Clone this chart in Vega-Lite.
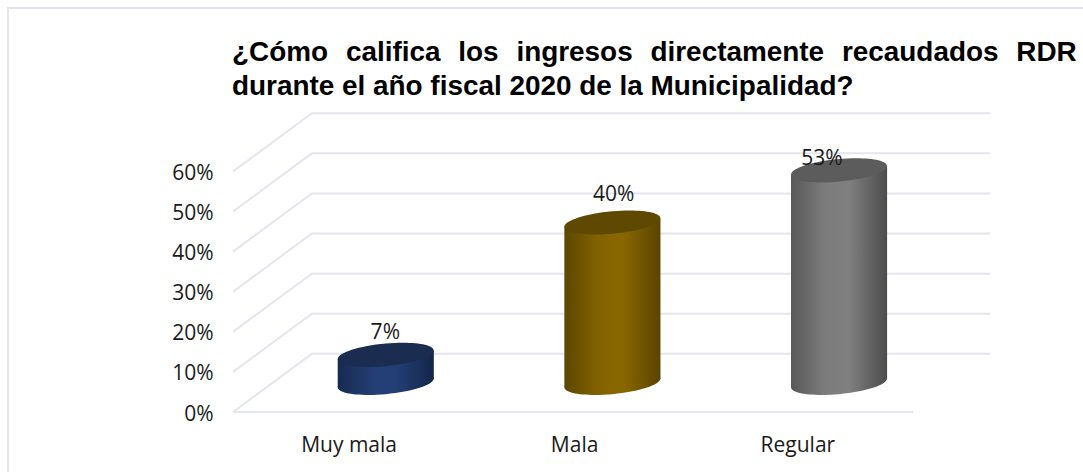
{
"$schema":"https://vega.github.io/schema/vega-lite/v6.json",
"width":757,"height":299,
"autosize":{"type":"none"},
"padding":{"left":233,"top":113,"right":93,"bottom":62},
"background":"#ffffff",
"title":{"text":["¿Cómo\u00a0\u00a0\u200acalif\u0069ca\u00a0\u00a0\u200alos\u00a0\u00a0\u200aingresos\u00a0\u00a0\u200adirectamente\u00a0\u00a0\u200arecaudados\u00a0\u00a0\u200aRDR","durante el año fiscal 2020 de la Municipalidad?"],"anchor":"start","frame":"group","font":"Liberation Sans","fontSize":27.9,"fontWeight":"bold","color":"#000000","lineHeight":34,"offset":0,"dy":97,"dx":-1},
"datasets":{
"rejilla":[
{"linea":"0","orden":1,"x":0,"y":0},{"linea":"0","orden":2,"x":0.348,"y":14.5},{"linea":"0","orden":3,"x":3.34,"y":14.5},
{"linea":"10","orden":1,"x":0,"y":10},{"linea":"10","orden":2,"x":0.348,"y":24.5},{"linea":"10","orden":3,"x":3.34,"y":24.5},
{"linea":"20","orden":1,"x":0,"y":20},{"linea":"20","orden":2,"x":0.348,"y":34.5},{"linea":"20","orden":3,"x":3.34,"y":34.5},
{"linea":"30","orden":1,"x":0,"y":30},{"linea":"30","orden":2,"x":0.348,"y":44.5},{"linea":"30","orden":3,"x":3.34,"y":44.5},
{"linea":"40","orden":1,"x":0,"y":40},{"linea":"40","orden":2,"x":0.348,"y":54.5},{"linea":"40","orden":3,"x":3.34,"y":54.5},
{"linea":"50","orden":1,"x":0,"y":50},{"linea":"50","orden":2,"x":0.348,"y":64.5},{"linea":"50","orden":3,"x":3.34,"y":64.5},
{"linea":"60","orden":1,"x":0,"y":60},{"linea":"60","orden":2,"x":0.348,"y":74.5},{"linea":"60","orden":3,"x":3.34,"y":74.5},
{"linea":"suelo","orden":1,"x":0,"y":0},{"linea":"suelo","orden":2,"x":3,"y":0},
{"linea":"marco","orden":1,"x":-0.993,"y":-15},{"linea":"marco","orden":2,"x":-0.993,"y":100.75},{"linea":"marco","orden":3,"x":3.78,"y":100.75}
],
"cuerpos":[
{"categoria":"Muy mala","x":0.462,"alto":13.25,"bajo":6.25},{"categoria":"Muy mala","x":0.886,"alto":15.25,"bajo":8.25},
{"categoria":"Mala","x":1.462,"alto":46.25,"bajo":6.25},{"categoria":"Mala","x":1.886,"alto":48.25,"bajo":8.25},
{"categoria":"Regular","x":2.462,"alto":59.25,"bajo":6.25},{"categoria":"Regular","x":2.886,"alto":61.25,"bajo":8.25}
],
"valores":[
{"categoria":"Muy mala","valor":7,"etiqueta":"7%","centro":0.674,"cima":14.25,"base":7.25,"xt":0.672,"yt":19.7},
{"categoria":"Mala","valor":40,"etiqueta":"40%","centro":1.674,"cima":47.25,"base":7.25,"xt":1.68,"yt":54.1},
{"categoria":"Regular","valor":53,"etiqueta":"53%","centro":2.674,"cima":60.25,"base":7.25,"xt":2.598,"yt":63.1}
]
},
"layer":[
{"data":{"name":"rejilla"},"mark":{"type":"line","color":"#e3e6ee","strokeWidth":2,"clip":false},
"encoding":{
"x":{"field":"x","type":"quantitative","scale":{"domain":[0,3.34],"nice":false,"zero":false},"axis":{"values":[0.51,1.505,2.49],"labelExpr":"['Muy mala','Mala','Regular'][round(datum.value-0.5)]","title":null,"domain":false,"ticks":false,"grid":false,"labelFont":"Open Sans","labelFontSize":21,"labelColor":"#1a1a1a","labelPadding":22,"labelFlush":false}},
"y":{"field":"y","type":"quantitative","scale":{"domain":[0,74.56],"nice":false},"axis":{"values":[0,10,20,30,40,50,60],"labelExpr":"datum.value+'%'","title":null,"domain":false,"ticks":false,"grid":false,"labelFont":"Open Sans","labelFontSize":21,"labelColor":"#1a1a1a","labelPadding":20,"labelOffset":2}},
"detail":{"field":"linea"},"order":{"field":"orden","type":"quantitative"}}},

{"data":{"name":"valores"},"transform":[{"filter":"datum.categoria==='Muy mala'"}],"mark":{"type":"point","filled":true,"opacity":1,"size":9216,"strokeWidth":0,"shape":"M1,-0.09C1,-0.2198,0.5523,-0.2847,0,-0.235C-0.5523,-0.1853,-1,-0.0398,-1,0.09C-1,0.2198,-0.5523,0.2847,0,0.235C0.5523,0.1853,1,0.0398,1,-0.09Z","fill":{"gradient":"linear","x1":0,"x2":1,"y1":0,"y2":0,"stops":[{"offset":0,"color":"#182a52"},{"offset":0.4,"color":"#243f75"},{"offset":0.6,"color":"#243f75"},{"offset":1,"color":"#14254a"}]}},
"encoding":{"x":{"field":"centro","type":"quantitative"},"y":{"field":"base","type":"quantitative"}}},
{"data":{"name":"valores"},"transform":[{"filter":"datum.categoria==='Mala'"}],"mark":{"type":"point","filled":true,"opacity":1,"size":9216,"strokeWidth":0,"shape":"M1,-0.09C1,-0.2198,0.5523,-0.2847,0,-0.235C-0.5523,-0.1853,-1,-0.0398,-1,0.09C-1,0.2198,-0.5523,0.2847,0,0.235C0.5523,0.1853,1,0.0398,1,-0.09Z","fill":{"gradient":"linear","x1":0,"x2":1,"y1":0,"y2":0,"stops":[{"offset":0,"color":"#5c4600"},{"offset":0.35,"color":"#836300"},{"offset":0.6,"color":"#8a6800"},{"offset":1,"color":"#5a4400"}]}},
"encoding":{"x":{"field":"centro","type":"quantitative"},"y":{"field":"base","type":"quantitative"}}},
{"data":{"name":"valores"},"transform":[{"filter":"datum.categoria==='Regular'"}],"mark":{"type":"point","filled":true,"opacity":1,"size":9216,"strokeWidth":0,"shape":"M1,-0.09C1,-0.2198,0.5523,-0.2847,0,-0.235C-0.5523,-0.1853,-1,-0.0398,-1,0.09C-1,0.2198,-0.5523,0.2847,0,0.235C0.5523,0.1853,1,0.0398,1,-0.09Z","fill":{"gradient":"linear","x1":0,"x2":1,"y1":0,"y2":0,"stops":[{"offset":0,"color":"#585858"},{"offset":0.35,"color":"#7c7c7c"},{"offset":0.6,"color":"#808080"},{"offset":1,"color":"#4c4c4c"}]}},
"encoding":{"x":{"field":"centro","type":"quantitative"},"y":{"field":"base","type":"quantitative"}}},

{"data":{"name":"cuerpos"},"transform":[{"filter":"datum.categoria==='Muy mala'"}],"mark":{"type":"area","opacity":1,"fill":{"gradient":"linear","x1":0,"x2":1,"y1":0,"y2":0,"stops":[{"offset":0,"color":"#182a52"},{"offset":0.4,"color":"#243f75"},{"offset":0.6,"color":"#243f75"},{"offset":1,"color":"#14254a"}]}},
"encoding":{"x":{"field":"x","type":"quantitative"},"y":{"field":"alto","type":"quantitative"},"y2":{"field":"bajo"}}},
{"data":{"name":"cuerpos"},"transform":[{"filter":"datum.categoria==='Mala'"}],"mark":{"type":"area","opacity":1,"fill":{"gradient":"linear","x1":0,"x2":1,"y1":0,"y2":0,"stops":[{"offset":0,"color":"#5c4600"},{"offset":0.35,"color":"#836300"},{"offset":0.6,"color":"#8a6800"},{"offset":1,"color":"#5a4400"}]}},
"encoding":{"x":{"field":"x","type":"quantitative"},"y":{"field":"alto","type":"quantitative"},"y2":{"field":"bajo"}}},
{"data":{"name":"cuerpos"},"transform":[{"filter":"datum.categoria==='Regular'"}],"mark":{"type":"area","opacity":1,"fill":{"gradient":"linear","x1":0,"x2":1,"y1":0,"y2":0,"stops":[{"offset":0,"color":"#585858"},{"offset":0.35,"color":"#7c7c7c"},{"offset":0.6,"color":"#808080"},{"offset":1,"color":"#4c4c4c"}]}},
"encoding":{"x":{"field":"x","type":"quantitative"},"y":{"field":"alto","type":"quantitative"},"y2":{"field":"bajo"}}},

{"data":{"name":"valores"},"mark":{"type":"point","filled":true,"opacity":1,"size":9216,"strokeWidth":0,"shape":"M1,-0.09C1,-0.2198,0.5523,-0.2847,0,-0.235C-0.5523,-0.1853,-1,-0.0398,-1,0.09C-1,0.2198,-0.5523,0.2847,0,0.235C0.5523,0.1853,1,0.0398,1,-0.09Z"},
"encoding":{"x":{"field":"centro","type":"quantitative"},"y":{"field":"cima","type":"quantitative"},
"fill":{"field":"categoria","type":"nominal","legend":null,"scale":{"domain":["Muy mala","Mala","Regular"],"range":["#1a2c50","#5f4800","#5c5c5c"]}}}},
{"data":{"name":"valores"},"mark":{"type":"text","font":"Open Sans","fontSize":21,"color":"#1a1a1a","baseline":"middle","align":"center"},
"encoding":{"x":{"field":"xt","type":"quantitative"},"y":{"field":"yt","type":"quantitative"},"text":{"field":"etiqueta"}}}
],
"config":{"view":{"stroke":null}}
}
